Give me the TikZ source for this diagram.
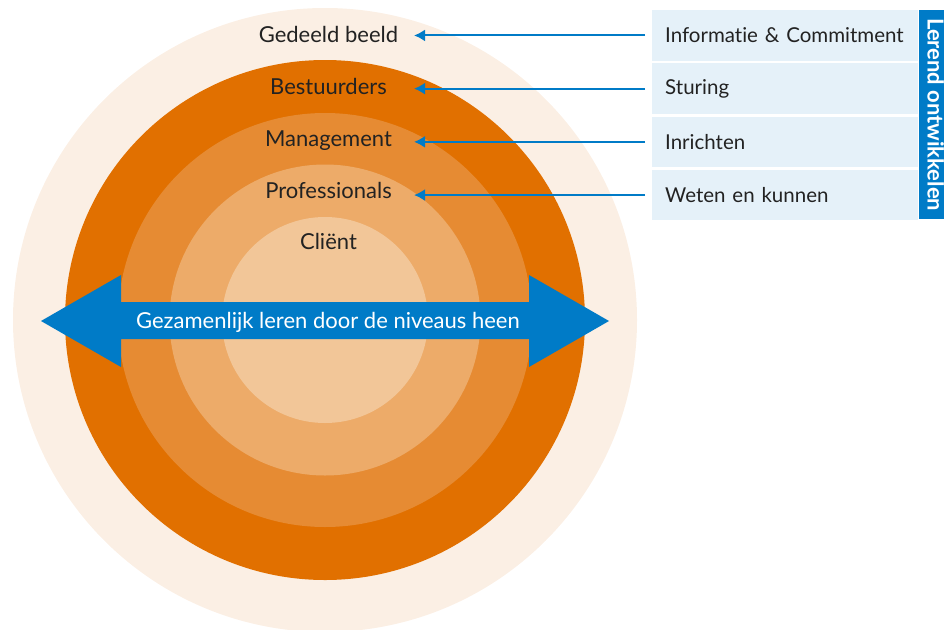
\documentclass[tikz,border=0pt]{standalone}
\usepackage{fontspec}
\setmainfont{Lato}[Ligatures=NoCommon]
\usepackage{tikz}
\usetikzlibrary{positioning,arrows.meta}
\definecolor{ring0}{HTML}{FBEFE4}
\definecolor{ring1}{HTML}{E17000}
\definecolor{ring2}{HTML}{E68B33}
\definecolor{ring3}{HTML}{EDAB69}
\definecolor{ring4}{HTML}{F2C698}
\definecolor{roblue}{HTML}{007BC7}
\definecolor{boxblue}{HTML}{E5F1F9}
\definecolor{txt}{HTML}{222222}
\tikzstyle{ring} = [circle, draw=none, inner sep=0pt]
\tikzstyle{lvl} = [text=txt, inner sep=0pt, anchor=base, font=\fontsize{22}{26}\selectfont]
\tikzstyle{box} = [fill=boxblue, text=txt, minimum width=264pt, minimum height=50.5pt, text width=240pt, inner xsep=13pt, align=left, font=\fontsize{20.5}{24}\selectfont]
\tikzstyle{side} = [fill=roblue, text=white, minimum width=209pt, minimum height=34pt, inner sep=0pt, font=\bfseries\fontsize{22}{26}\selectfont]
\tikzstyle{tedge}  = [draw=roblue, line width=2pt, -{Latex[length=11pt,width=12pt]}]

\begin{document}
\begin{tikzpicture}[x=1pt, y=1pt]

\useasboundingbox (0,0) rectangle (944,-629);

% rings =============================
\node[ring, fill=ring0, minimum size=624pt] (r0) at (325,-320) {};
\node[ring, fill=ring1, minimum size=520pt] (r1) at (325,-320) {};
\node[ring, fill=ring2, minimum size=414pt] (r2) at (325,-320) {};
\node[ring, fill=ring3, minimum size=311pt] (r3) at (325,-320) {};
\node[ring, fill=ring4, minimum size=206pt] (r4) at (325,-320) {};

% levels
\node[lvl] (l0) at (328.5,-42.7) {Gedeeld beeld};
\node[lvl] (l1) at (328.5,-94.3) {Bestuurders};
\node[lvl] (l2) at (328.5,-146) {Management};
\node[lvl] (l3) at (328.5,-198) {Professionals};
\node[lvl] (l4) at (328.5,-249.5) {Cliënt};

% double arrow
\fill[roblue] (41,-321) -- (121,-275) -- (121,-302) -- (529,-302) -- (529,-275)
  -- (609,-321) -- (529,-367) -- (529,-339) -- (121,-339) -- (121,-367) -- cycle;
\node[lvl, text=white] (across) at (328,-328.3) {Gezamenlijk leren door de niveaus heen};

% boxes =============================
\node[box, anchor=north west] (b0) at (652,-10) {Informatie \& Commitment};
\node[box, below=2.3pt of b0] (b1) {Sturing};
\node[box, below=2.3pt of b1] (b2) {Inrichten};
\node[box, below=2.3pt of b2] (b3) {Weten en kunnen};

\node[side, rotate=-90, anchor=south west] (strip) at (b0.north east) {Lerend ontwikkelen};

% edges boxes to levels
\coordinate (tip) at (414,0);
\path[tedge] ([xshift=-7pt]b0.west) -- (tip |- b0.west);
\path[tedge] ([xshift=-7pt]b1.west) -- (tip |- b1.west);
\path[tedge] ([xshift=-7pt]b2.west) -- (tip |- b2.west);
\path[tedge] ([xshift=-7pt]b3.west) -- (tip |- b3.west);

\end{tikzpicture}
\end{document}
